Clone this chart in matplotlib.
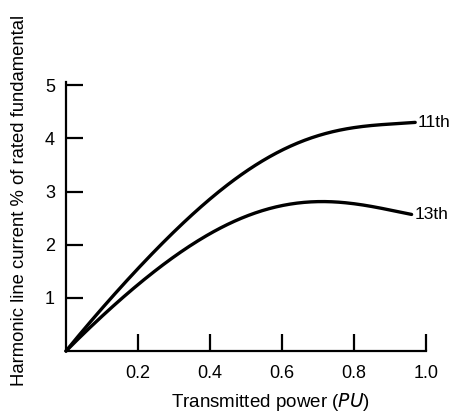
import numpy as np
import matplotlib
matplotlib.use("Agg")
import matplotlib.pyplot as plt

plt.rcParams['font.family'] = ['Liberation Sans', 'DejaVu Sans']

# values
power = [0.0, 0.1, 0.2, 0.3, 0.4, 0.5, 0.6, 0.7, 0.8, 0.9, 0.97]
h11 = [0.0, 0.8, 1.55, 2.25, 2.85, 3.38, 3.78, 4.05, 4.2, 4.27, 4.3]
power13 = [0.0, 0.1, 0.2, 0.3, 0.4, 0.5, 0.6, 0.7, 0.8, 0.9, 0.96]
h13 = [0.0, 0.65, 1.25, 1.78, 2.2, 2.53, 2.74, 2.81, 2.77, 2.65, 2.57]
xticks = [0.2, 0.4, 0.6, 0.8, 1.0]
xticklabels = ['0.2', '0.4', '0.6', '0.8', '1.0']
yticks = [1, 2, 3, 4, 5]

fig = plt.figure(figsize=(4.6, 4.13), dpi=100)
ax = fig.add_axes([66/460, 1-351/413, (426-66)/460, (351-82)/413])

def smooth(x, y):
    # smooth curve through the read points
    xs = np.linspace(x[0], x[-1], 200)
    c = np.polyfit(x, y, 5)
    return xs, np.polyval(c, xs)

for x, y in [(power, h11), (power13, h13)]:
    xs, ys = smooth(x, y)
    ax.plot(xs, ys, color='black', lw=2.4, solid_capstyle='round', clip_on=False)

ax.text(power[-1] + 0.008, h11[-1], '11th', fontsize=12.5, va='center', ha='left')
ax.text(power13[-1] + 0.008, h13[-1], '13th', fontsize=12.5, va='center', ha='left')

ax.set_xlim(0, 1.0)
ax.set_ylim(0, 5.06)
ax.set_xticks(xticks)
ax.set_xticklabels(xticklabels)
ax.set_yticks(yticks)
ax.tick_params(direction='in', length=12, width=1.6, labelsize=13, pad=8)
ax.tick_params(axis='x', pad=10)
for s in ['top', 'right']:
    ax.spines[s].set_visible(False)
for s in ['left', 'bottom']:
    ax.spines[s].set_linewidth(1.6)

fig.text(270/460, 1-402/413, 'Transmitted power ($\\it{PU}$)', fontsize=13.5,
         va='center', ha='center')
fig.text(20/460, 1-200/413, 'Harmonic line current % of rated fundamental', rotation=90,
         fontsize=13.3, va='center', ha='center')

fig.savefig('out.png', dpi=100)
